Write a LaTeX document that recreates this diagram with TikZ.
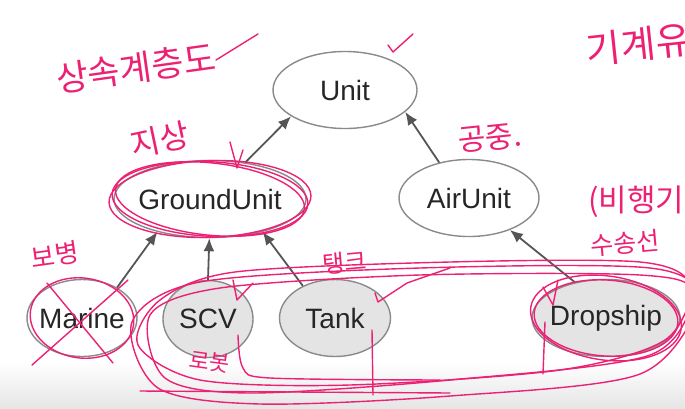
\documentclass[tikz,border=0pt]{standalone}
\usepackage{fontspec}
\setmainfont{Liberation Sans}
\newfontfamily\kr{Noto Sans CJK KR}
\usetikzlibrary{shapes.geometric,arrows.meta}
\definecolor{trait}{HTML}{555555}
\definecolor{bord}{HTML}{8A8A8A}
\definecolor{fond}{HTML}{E4E4E4}
\definecolor{feutre}{HTML}{EC2174}
\newcommand{\etiq}[1]{\makebox[0pt]{#1}}
\begin{document}
\begin{tikzpicture}[x=1pt,y=-1pt,
	classe/.style={ellipse, draw=bord, line width=1.4pt, fill=white, inner sep=0pt,
		minimum height=77pt, text=black!85, font=\fontsize{28}{32}\selectfont},
	feuille/.style={classe, fill=fond},
	herite/.style={draw=trait, line width=1.8pt, -{Latex[length=13pt,width=11pt]}},
	stylo/.style={draw=feutre, line width=1.4pt, line cap=round, line join=round},
	note/.style={text=feutre, font=\kr\fontsize{27}{30}\selectfont, inner sep=0pt}]
	\useasboundingbox (0,0) rectangle (685,408);
	\fill[top color=white, bottom color=black!10] (0,362) rectangle (685,408);
	
	% Classes
	\node[classe, minimum width=144pt] (unit) at (345,90) {\etiq{Unit}};
	\node[classe, minimum width=192pt] (ground) at (210,199) {\etiq{GroundUnit}};
	\node[classe, minimum width=140pt] (air) at (469,198) {\etiq{AirUnit}};
	\node[classe, minimum width=110pt] (marine) at (82,318) {\etiq{Marine}};
	\node[feuille, minimum width=90pt] (scv) at (208,319) {\etiq{SCV}};
	\node[feuille, minimum width=111pt] (tank) at (335,318) {\etiq{Tank}};
	\node[feuille, minimum width=148pt] (drop) at (606,318) {\etiq{Dropship}};
	
	% Heritage
	\draw[herite] (ground.46) -- (unit.206);
	\draw[herite] (air.130) -- (unit.340);
	\draw[herite] (marine.41) -- (ground.212);
	\draw[herite] (scv.north) -- (ground.269);
	\draw[herite] (tank.135) -- (ground.328);
	\draw[herite] (drop.131) -- (air.322);
	
	% Annotations
	\node[note, rotate=8, font=\kr\fontsize{35}{38}\selectfont] (titre) at (136,68) {상속계층도};
	\draw[stylo] (216,60) -- (258,34);
	\draw[stylo] (388,45) -- (393,52) -- (413,34);
	\node[note, rotate=12, font=\kr\fontsize{32}{35}\selectfont] (sol) at (160,140) {지상};
	\draw[stylo] (230,142) -- (237,168) -- (243,150);
	\foreach \r/\a in {98/-3,101/2,95/-6}
		\draw[stylo] (ground.center) ellipse [x radius=\r, y radius=0.38*\r, rotate=\a];
	\node[note, rotate=6, font=\kr\fontsize{30}{33}\selectfont] (ciel) at (490,138) {공중.};
	\node[note, anchor=west, rotate=6, font=\kr\fontsize{38}{41}\selectfont] (meca) at (586,50) {기계유닛};
	\node[note, anchor=west, font=\kr\fontsize{31}{34}\selectfont] (avion) at (588,202) {(비행기};
	\node[note, rotate=5, font=\kr\fontsize{25}{28}\selectfont] (transport) at (625,243) {수송선};
	\node[note, rotate=8, font=\kr\fontsize{26}{29}\selectfont] (infanterie) at (55,255) {보병};
	\node[note, rotate=5, font=\kr\fontsize{24}{27}\selectfont] (char) at (345,263) {탱크};
	\node[note, rotate=-8, font=\kr\fontsize{22}{25}\selectfont] (robot) at (210,362) {로봇};
	
	% Marine barre
	\draw[stylo] (32,365) -- (128,280);
	\draw[stylo] (47,283) -- (113,363);
	\draw[stylo] (marine.center) ellipse [x radius=52, y radius=40, rotate=-8];
	
	% Boucles
	\draw[stylo] plot[smooth cycle] coordinates {(160,300) (235,272) (450,262) (640,262) (690,285) (665,340) (560,370) (350,385) (200,380) (138,345)};
	\draw[stylo] plot[smooth cycle] coordinates {(132,322) (200,282) (420,268) (650,268) (698,300) (640,374) (450,396) (260,404) (158,388)};
	\draw[stylo] plot[smooth cycle] coordinates {(150,315) (220,288) (420,275) (640,275) (692,292) (650,355) (450,380) (250,393) (165,378)};
	\draw[stylo] (drop.center) ellipse [x radius=76, y radius=42, rotate=-8];
	\draw[stylo] (drop.center) ellipse [x radius=72, y radius=38, rotate=-4];
	\draw[stylo] (140,391) -- (450,393);
	\draw[stylo] plot[smooth] coordinates {(238,335) (243,368) (270,378) (440,380)};
	\draw[stylo] (372,330) -- (373,395);
	\draw[stylo] (545,322) -- (543,374);
	\draw[stylo] (233,280) -- (237,300) -- (253,283);
	\draw[stylo] (375,293) -- (378,302) -- (407,283) -- (450,268);
	\draw[stylo] (543,287) -- (553,305) -- (558,280);
\end{tikzpicture}
\end{document}
